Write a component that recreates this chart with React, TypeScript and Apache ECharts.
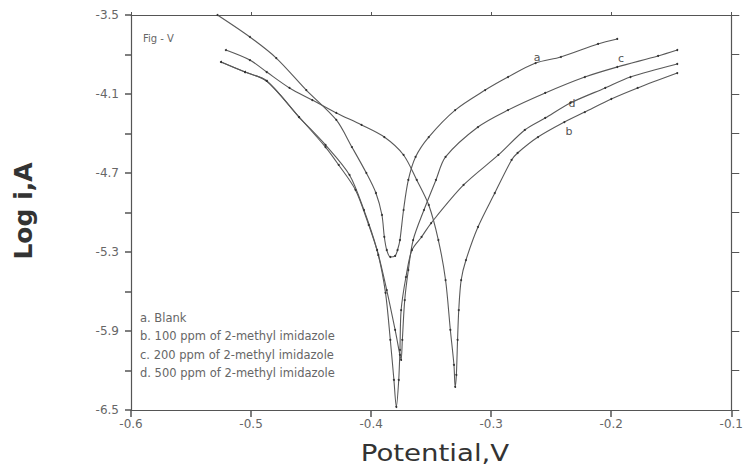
import React, { useEffect, useRef } from "react";
import * as echarts from "echarts";

// Axis ranges and ticks
const X_MIN = -0.6;
const X_MAX = -0.1;
const X_TICKS = [-0.6, -0.5, -0.4, -0.3, -0.2, -0.1];
const Y_MIN = -6.5;
const Y_MAX = -3.5;
const Y_LABEL_TICKS = [-6.5, -5.9, -5.3, -4.7, -4.1, -3.5];
const Y_ALL_TICKS = [-6.5, -6.2, -5.9, -5.6, -5.3, -5.0, -4.7, -4.4, -4.1, -3.8, -3.5];

// Curves: [potential V, log i]
const CURVE_A = [
  [-0.528, -3.5], [-0.501, -3.667], [-0.479, -3.827], [-0.454, -4.07], [-0.429, -4.297],
  [-0.416, -4.503], [-0.404, -4.7], [-0.396, -4.852], [-0.391, -5.019], [-0.389, -5.186],
  [-0.387, -5.285], [-0.384, -5.338], [-0.38, -5.33], [-0.378, -5.285], [-0.376, -5.209],
  [-0.373, -4.981], [-0.369, -4.753], [-0.363, -4.578], [-0.352, -4.427], [-0.33, -4.222],
  [-0.305, -4.07], [-0.286, -3.971], [-0.263, -3.865], [-0.242, -3.819], [-0.211, -3.72],
  [-0.195, -3.682],
];
const CURVE_B = [
  [-0.521, -3.766], [-0.501, -3.842], [-0.487, -3.933], [-0.468, -4.054], [-0.449, -4.146],
  [-0.429, -4.244], [-0.408, -4.335], [-0.389, -4.427], [-0.373, -4.563], [-0.362, -4.753],
  [-0.352, -4.943], [-0.344, -5.209], [-0.338, -5.513], [-0.334, -5.892], [-0.331, -6.158],
  [-0.33, -6.325], [-0.329, -6.234], [-0.328, -5.968], [-0.327, -5.741], [-0.325, -5.513],
  [-0.321, -5.361], [-0.311, -5.11], [-0.297, -4.852], [-0.283, -4.601], [-0.278, -4.548],
  [-0.261, -4.427], [-0.239, -4.313], [-0.222, -4.237], [-0.2, -4.138], [-0.178, -4.054],
  [-0.145, -3.941],
];
const CURVE_C = [
  [-0.525, -3.857], [-0.505, -3.933], [-0.487, -4.001], [-0.46, -4.275], [-0.438, -4.487],
  [-0.418, -4.715], [-0.406, -4.981], [-0.395, -5.285], [-0.387, -5.589], [-0.38, -5.892],
  [-0.376, -6.082], [-0.375, -6.12], [-0.374, -5.968], [-0.372, -5.665], [-0.369, -5.437],
  [-0.365, -5.209], [-0.356, -4.981], [-0.346, -4.753], [-0.338, -4.578], [-0.311, -4.351],
  [-0.286, -4.222], [-0.255, -4.092], [-0.222, -3.971], [-0.195, -3.895], [-0.161, -3.811],
  [-0.145, -3.766],
];
const CURVE_D = [
  [-0.525, -3.857], [-0.505, -3.933], [-0.487, -4.001], [-0.46, -4.275], [-0.438, -4.503],
  [-0.427, -4.639], [-0.413, -4.829], [-0.402, -5.095], [-0.394, -5.323], [-0.388, -5.611],
  [-0.384, -5.968], [-0.381, -6.272], [-0.379, -6.477], [-0.377, -6.272], [-0.376, -6.044],
  [-0.375, -5.741], [-0.371, -5.49], [-0.366, -5.285], [-0.358, -5.186], [-0.35, -5.08],
  [-0.323, -4.791], [-0.294, -4.563], [-0.272, -4.373], [-0.255, -4.282], [-0.234, -4.168],
  [-0.205, -4.054], [-0.184, -3.971], [-0.145, -3.872],
];

const SERIES_NAMES = ["a", "b", "c", "d"];
const SERIES_DATA = [CURVE_A, CURVE_B, CURVE_C, CURVE_D];
const LEGEND_LINES = [
  "a. Blank",
  "b. 100 ppm of 2-methyl imidazole",
  "c. 200 ppm of 2-methyl imidazole",
  "d. 500 ppm of 2-methyl imidazole",
];
const CURVE_LABELS = [
  { t: "a", x: 537, y: 57 },
  { t: "c", x: 621, y: 58 },
  { t: "d", x: 572, y: 103 },
  { t: "b", x: 569, y: 131 },
];

export default function App() {
  const ref = useRef<HTMLDivElement>(null);
  useEffect(() => {
    if (!ref.current) return;
    const chart = echarts.init(ref.current, null, { renderer: "svg" });
    const axisLine = { show: true, lineStyle: { color: "#555", width: 1.2 } };
    const labelStyle = { color: "#666", fontFamily: "DejaVu Sans", fontSize: 12 };
    const graphics: any[] = [
      {
        type: "text", x: 143, y: 38,
        style: { text: "Fig - V", fill: "#666", font: "10px 'DejaVu Sans'", align: "left", verticalAlign: "middle" },
      },
      {
        type: "text", x: 435, y: 453, scaleX: 1.2,
        style: { text: "Potential,V", fill: "#333", font: "23px 'DejaVu Sans'", align: "center", verticalAlign: "middle" },
      },
      {
        type: "text", x: 23, y: 211, rotation: Math.PI / 2,
        style: { text: "Log i,A", fill: "#333", font: "bold 25px 'DejaVu Sans'", align: "center", verticalAlign: "middle" },
      },
    ];
    LEGEND_LINES.forEach((t, i) => {
      graphics.push({
        type: "text", x: 140, y: 318 + i * 18.4,
        style: { text: t, fill: "#666", font: "11.5px 'DejaVu Sans'", align: "left", verticalAlign: "middle" },
      });
    });
    CURVE_LABELS.forEach((l) => {
      graphics.push({
        type: "text", x: l.x, y: l.y,
        style: { text: l.t, fill: "#555", font: "11px 'DejaVu Sans'", align: "center", verticalAlign: "middle" },
      });
    });
    chart.setOption({
      animation: false,
      backgroundColor: "#fff",
      grid: { left: 131, right: 11, top: 15, bottom: 58 },
      xAxis: [
        {
          type: "value", min: X_MIN, max: X_MAX, position: "bottom",
          axisLine, splitLine: { show: false },
          axisTick: { show: true, inside: false, length: 7, customValues: X_TICKS, lineStyle: { color: "#555", width: 1.5 } },
          axisLabel: { ...labelStyle, margin: 8, customValues: X_TICKS, formatter: (v: number) => v.toFixed(1) },
        },
        {
          type: "value", min: X_MIN, max: X_MAX, position: "top",
          axisLine, splitLine: { show: false },
          axisTick: { show: true, inside: false, length: 3, customValues: X_TICKS, lineStyle: { color: "#555" } },
          axisLabel: { show: false },
        },
      ],
      yAxis: [
        {
          type: "value", min: Y_MIN, max: Y_MAX, position: "left",
          axisLine, splitLine: { show: false },
          axisTick: { show: true, inside: false, length: 6, customValues: Y_ALL_TICKS, lineStyle: { color: "#555", width: 1.5 } },
          axisLabel: { ...labelStyle, margin: 12, customValues: Y_LABEL_TICKS, formatter: (v: number) => v.toFixed(1) },
        },
        {
          type: "value", min: Y_MIN, max: Y_MAX, position: "right",
          axisLine, splitLine: { show: false },
          axisTick: { show: true, inside: false, length: 8, customValues: Y_ALL_TICKS, lineStyle: { color: "#555" } },
          axisLabel: { show: false },
        },
      ],
      series: SERIES_DATA.map((d, i) => ({
        type: "line",
        name: SERIES_NAMES[i],
        data: d,
        xAxisIndex: 0,
        yAxisIndex: 0,
        showSymbol: true,
        symbol: "circle",
        symbolSize: 2,
        itemStyle: { color: "#333" },
        lineStyle: { color: "#595959", width: 1.1 },
        smooth: 0.3,
      })),
      graphic: graphics,
    });
    return () => chart.dispose();
  }, []);
  return <div ref={ref} style={{ position: "absolute", left: 0, top: 0, width: 746, height: 468 }} />;
}
